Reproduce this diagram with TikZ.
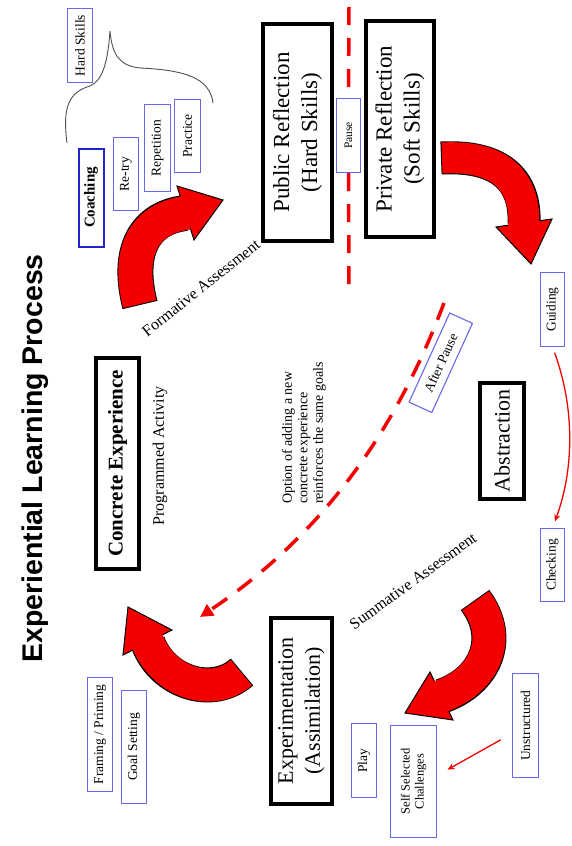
\documentclass[tikz,border=0pt]{standalone}
\usepackage{fontspec}
\setmainfont{Liberation Serif}
\newfontfamily\titlefont{Liberation Sans}
\usetikzlibrary{arrows.meta,calc}
\definecolor{boxblue}{RGB}{105,105,232}
\definecolor{coachblue}{RGB}{35,35,205}
\definecolor{arrred}{RGB}{245,0,0}
\definecolor{bracegray}{RGB}{80,80,80}
\newcommand{\fsz}[2]{\fontsize{#1}{#2}\selectfont}
% fat block arrow: #1 band path, #2 outline width, #3 band width, #4 corner, #5 tip, #6 corner
\newcommand{\fatarrow}[6]{%
  \draw[line width=#2, black] #1;
  \filldraw[fill=arrred, draw=black, line width=1pt, line join=miter] #4 -- #5 -- #6 -- cycle;
  \draw[line width=#3, arrred, shorten <=1pt, shorten >=-3pt] #1;
}
\begin{document}
\begin{tikzpicture}[x=1pt,y=-1pt,
  bigbox/.style={draw=black, line width=3.2pt, rotate=90, inner sep=0pt, align=center},
  bbox/.style={draw=boxblue, line width=1.1pt, rotate=90, inner sep=0pt, align=center, font=\fsz{13.5}{15}},
  lbl/.style={inner sep=0pt, align=center},
  thinred/.style={draw=arrred, line width=1.3pt, -{Stealth[length=7pt,width=6pt]}},
  dashred/.style={draw=arrred, line width=3.5pt, dash pattern=on 18pt off 13pt}
]
\useasboundingbox (0,0) rectangle (572,846);
\fill[white] (0,0) rectangle (572,846);

% title
\node[lbl, rotate=90, anchor=base, font=\titlefont\bfseries\fsz{28.5}{32}] (title) at (42,458.5) {Experiential Learning Process};

% main boxes
\node[bigbox, minimum width=217pt, minimum height=69pt, font=\fsz{23}{28}] (pub) at (297.5,132.5) {Public Reflection\\(Hard Skills)};
\node[bigbox, minimum width=216pt, minimum height=68pt, font=\fsz{23}{28}] (priv) at (400,129) {Private Reflection\\(Soft Skills)};
\node[bigbox, minimum width=211pt, minimum height=43pt, font=\bfseries\fsz{21}{24}] (conc) at (117.5,463.5) {Concrete Experience};
\node[bigbox, minimum width=116pt, minimum height=44pt, font=\fsz{22}{26}] (abs) at (502,441) {Abstraction};
\node[bigbox, minimum width=186pt, minimum height=61pt, font=\fsz{22}{27}] (exp) at (301.5,711) {Experimentation\\(Assimilation)};

% labels
\node[lbl, rotate=90, font=\fsz{16}{18}] (prog) at (160,456) {Programmed Activity};
\node[lbl, rotate=90, align=left, font=\fsz{14}{15.5}] (opt) at (304,433) {Option of adding a new\\concrete experience\\reinforces the same goals};
\node[lbl, rotate=38.5, font=\fsz{16}{18}] (form) at (201,288) {Formative Assessment};
\node[lbl, rotate=36, font=\fsz{16}{18}] (summ) at (413,581) {Summative Assessment};

% small blue boxes
\node[bbox, minimum width=74pt, minimum height=25pt] (hard) at (80,45.5) {Hard Skills};
\node[bbox, draw=coachblue, line width=2pt, minimum width=98pt, minimum height=25pt, font=\bfseries\fsz{15}{17}] (coach) at (91,197.5) {Coaching};
\node[bbox, minimum width=73pt, minimum height=25pt] (retry) at (126,174) {Re-try};
\node[bbox, minimum width=87pt, minimum height=26pt] (rep) at (157.5,148) {Repetition};
\node[bbox, minimum width=73pt, minimum height=26pt] (prac) at (187.5,136) {Practice};
\node[bbox, minimum width=74pt, minimum height=24pt, font=\fsz{11.5}{13}] (pause) at (348.5,135.5) {Pause};
\node[bbox, minimum width=74pt, minimum height=24pt] (guid) at (552.5,309.5) {Guiding};
\node[bbox, minimum width=73pt, minimum height=24pt] (check) at (552.5,565) {Checking};
\node[bbox, minimum width=104pt, minimum height=26pt] (unstr) at (525.5,725.5) {Unstructured};
\node[bbox, minimum width=112pt, minimum height=46pt, font=\fsz{12.5}{14}] (ssc) at (413.5,781.5) {Self Selected\\Challenges};
\node[bbox, minimum width=74pt, minimum height=25pt] (play) at (364,760.5) {Play};
\node[bbox, minimum width=114pt, minimum height=25pt] (frame) at (100,734.5) {Framing / Priming};
\node[bbox, minimum width=113pt, minimum height=25pt] (goal) at (134,747) {Goal Setting};
\node[bbox, rotate=-24.5, minimum width=98pt, minimum height=25pt] (after) at (440.75,362.75) {After Pause};

% brace over the hard-skill boxes
\draw[bracegray, line width=0.9pt] (67,143) .. controls (62,105) and (70,92) .. (90,86)
  .. controls (104,80) and (108,58) .. (110,31)
  .. controls (112,55) and (120,66) .. (140,68)
  .. controls (185,70) and (210,78) .. (213,103);

% vertical dashed line through Pause
\coordinate (vt) at (349,7);
\coordinate (vb) at (349,286);
\draw[dashred] (vt) -- (pause.east);
\draw[dashred] (pause.west) -- (vb);

% dashed curve back to concrete experience
\coordinate (d1) at (444,303);
\coordinate (d2) at (200,617);
\draw[dashred, -{Triangle[length=13pt,width=13pt]}] (d1) .. controls (400,420) and (330,530) .. (d2);

% thin red arrows
\draw[thinred, shorten <=6pt, shorten >=7pt] (guid.west) .. controls +(22,60) and +(22,-60) .. (check.east);
\draw[thinred, shorten <=13pt, shorten >=12pt] ($(unstr.north)+(0,8)$) -- ($(ssc.south)+(0,-6)$);

% fat red block arrows
\fatarrow{(140,305) .. controls (126,250) and (145,218) .. (185,213)}{36pt}{34pt}{(177,186)}{(223,200)}{(194,240)}
\fatarrow{(441,158) .. controls (500,155) and (526,180) .. (524,224)}{33pt}{31pt}{(496,227)}{(531,264)}{(552,219)}
\fatarrow{(475,600) .. controls (505,640) and (483,682) .. (442,696)}{35pt}{33pt}{(430,672)}{(405,713)}{(453,720)}
\fatarrow{(242,672) .. controls (213,698) and (163,683) .. (148,643)}{35pt}{33pt}{(123,655)}{(128,607)}{(172,630)}
\end{tikzpicture}
\end{document}
